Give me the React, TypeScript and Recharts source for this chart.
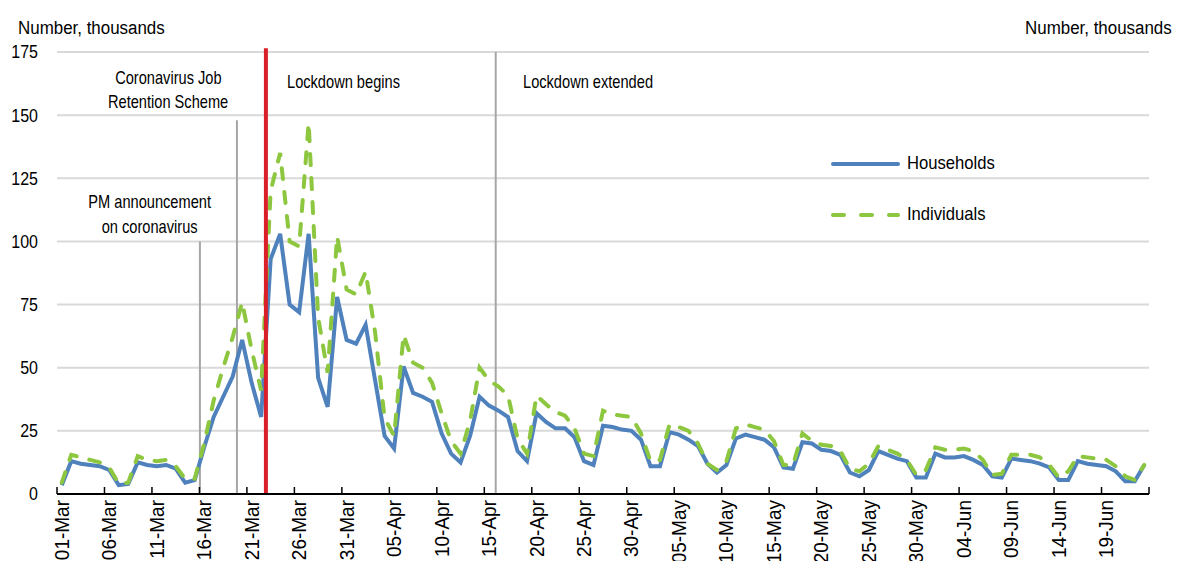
import { LineChart, Line, XAxis, YAxis, CartesianGrid, ReferenceLine } from "recharts";

const days = [
  "01-Mar", "02-Mar", "03-Mar", "04-Mar", "05-Mar", "06-Mar", "07-Mar", "08-Mar", "09-Mar", "10-Mar",
  "11-Mar", "12-Mar", "13-Mar", "14-Mar", "15-Mar", "16-Mar", "17-Mar", "18-Mar", "19-Mar", "20-Mar",
  "21-Mar", "22-Mar", "23-Mar", "24-Mar", "25-Mar", "26-Mar", "27-Mar", "28-Mar", "29-Mar", "30-Mar",
  "31-Mar", "01-Apr", "02-Apr", "03-Apr", "04-Apr", "05-Apr", "06-Apr", "07-Apr", "08-Apr", "09-Apr",
  "10-Apr", "11-Apr", "12-Apr", "13-Apr", "14-Apr", "15-Apr", "16-Apr", "17-Apr", "18-Apr", "19-Apr",
  "20-Apr", "21-Apr", "22-Apr", "23-Apr", "24-Apr", "25-Apr", "26-Apr", "27-Apr", "28-Apr", "29-Apr",
  "30-Apr", "01-May", "02-May", "03-May", "04-May", "05-May", "06-May", "07-May", "08-May", "09-May",
  "10-May", "11-May", "12-May", "13-May", "14-May", "15-May", "16-May", "17-May", "18-May", "19-May",
  "20-May", "21-May", "22-May", "23-May", "24-May", "25-May", "26-May", "27-May", "28-May", "29-May",
  "30-May", "31-May", "01-Jun", "02-Jun", "03-Jun", "04-Jun", "05-Jun", "06-Jun", "07-Jun", "08-Jun",
  "09-Jun", "10-Jun", "11-Jun", "12-Jun", "13-Jun", "14-Jun", "15-Jun", "16-Jun", "17-Jun", "18-Jun",
  "19-Jun", "20-Jun", "21-Jun", "22-Jun", "23-Jun",
];

// thousands
const households = [
  3.5, 13, 12, 11.5, 11, 9.5, 3.5, 4, 12.5, 11.5,
  11, 11.5, 10, 4.5, 5.5, 18.5, 30.5, 38.5, 46.5, 61,
  44, 30.5, 93, 103, 75, 72, 103, 46, 34.5, 78,
  61, 59.5, 67, 45, 23, 18, 50.5, 40, 38.5, 36.5,
  24, 16, 12.5, 23, 38.5, 35, 33, 30.5, 17, 13,
  32, 28.5, 26, 26, 22.5, 13, 11.5, 27, 26.5, 25.5,
  25, 21.5, 11, 11, 24.5, 23.5, 21.5, 19, 12, 8.5,
  11.5, 22, 23.5, 22.5, 21.5, 18.5, 10.5, 10, 20.5, 20,
  17.5, 17, 15.5, 8.5, 7, 9.5, 17, 15.5, 14, 13,
  6.5, 6.5, 16, 14.5, 14.5, 15, 13.5, 11.5, 7, 6.5,
  14, 13.5, 13, 12, 10.5, 5.5, 5.5, 13, 12, 11.5,
  11, 9, 5, 5, 11.5,
];

const individuals = [
  4.5, 15.5, 14.5, 13.5, 12.5, 10.5, 4, 4.5, 15, 13.5,
  13, 13.5, 11, 6, 6, 20, 37, 50, 62, 76,
  57, 41, 120, 135, 100, 98, 147, 70, 48, 102,
  81, 79, 88, 64, 30, 23, 63, 52, 50, 44,
  32, 21, 16, 29, 50, 45, 42.5, 39, 22, 16,
  39, 35.5, 32.5, 31, 26, 16, 15, 33, 31.5, 31,
  30.5, 24, 13, 13.5, 27.5, 26.5, 25, 20, 12, 9.5,
  13, 26, 27.5, 26.5, 25.5, 21, 11.5, 11.5, 24, 21,
  19.5, 19, 17, 10, 9, 12, 19, 17.5, 16, 13.5,
  7.5, 9.5, 18.5, 17.5, 17.5, 18, 17, 13.5, 7.5, 8,
  15.5, 15.5, 15.5, 14.5, 11.5, 6.5, 9, 15, 14.5, 14,
  13.5, 11, 7, 5.5, 11.5,
];

const xTicks = [0, 5, 10, 15, 20, 25, 30, 35, 40, 45, 50, 55, 60, 65, 70, 75, 80, 85, 90, 95, 100, 105, 110];
const yTicks = [0, 25, 50, 75, 100, 125, 150, 175];

const data = days.map((d, i) => ({ i, day: d, households: households[i], individuals: individuals[i] }));

const FONT = '"Liberation Sans", Arial, sans-serif';
const BLUE = "#4F81BD";
const GREEN = "#8DC63F";
const PLOT_LEFT = 57;
const PLOT_RIGHT = 1149;
const STEP = (PLOT_RIGHT - PLOT_LEFT) / days.length;

const DayTick = (props: any) => {
  const { x, y, payload } = props;
  const bx = x - STEP / 2;
  return (
    <g>
      <line x1={bx} x2={bx} y1={y} y2={y - 7} stroke="#000" strokeWidth={1.5} />
      {payload.value === 110 && (
        <line x1={x + STEP * 4.5} x2={x + STEP * 4.5} y1={y} y2={y - 7} stroke="#000" strokeWidth={1.5} />
      )}
      <text
        transform={`translate(${x},${y + 6}) rotate(-90) scale(0.95,1)`}
        textAnchor="end"
        dy="0.35em"
        fontSize={20}
        fontFamily={FONT}
        fill="#000"
      >
        {days[payload.value]}
      </text>
    </g>
  );
};

const ValueTick = (props: any) => {
  const { x, y, payload, textAnchor } = props;
  return (
    <text
      transform={`translate(${x},${y}) scale(0.89,1)`}
      textAnchor={textAnchor}
      dy="0.36em"
      fontSize={18}
      fontFamily={FONT}
      fill="#000"
    >
      {payload.value}
    </text>
  );
};

const Squeezed = ({ k, origin, children }: any) => (
  <span style={{ display: "inline-block", transform: `scaleX(${k})`, transformOrigin: origin }}>{children}</span>
);

const note = (lines: string[], style: any, origin: string) => (
  <div
    style={{
      position: "absolute",
      fontFamily: FONT,
      fontSize: 18.5,
      lineHeight: "24px",
      color: "#000",
      whiteSpace: "nowrap",
      ...style,
    }}
  >
    {lines.map((t) => (
      <div key={t}>
        <Squeezed k={0.79} origin={origin}>{t}</Squeezed>
      </div>
    ))}
  </div>
);

const legendItems = [
  { name: "Households", color: BLUE, dash: undefined as string | undefined },
  { name: "Individuals", color: GREEN, dash: "11 17" },
];

export default function App() {
  return (
    <div style={{ position: "absolute", left: 0, top: 0, width: 1198, height: 561, background: "#fff" }}>
      <LineChart width={1198} height={561} data={data} margin={{ top: 52, right: 0, bottom: 0, left: 0 }}>
        <CartesianGrid yAxisId="left" horizontal vertical={false} stroke="#D9D9D9" strokeWidth={2} />
        <XAxis
          dataKey="i"
          type="number"
          domain={[-0.5, days.length - 0.5]}
          ticks={xTicks}
          interval={0}
          height={67}
          tickLine={false}
          tickSize={0}
          tickMargin={0}
          axisLine={{ stroke: "#000", strokeWidth: 2 }}
          tick={<DayTick />}
        />
        <YAxis
          yAxisId="left"
          width={57}
          domain={[0, 175]}
          ticks={yTicks}
          axisLine={false}
          tickLine={false}
          tickSize={0}
          tickMargin={19}
          tick={<ValueTick />}
        />
        <YAxis
          yAxisId="right"
          orientation="right"
          width={49}
          domain={[0, 175]}
          ticks={yTicks}
          axisLine={false}
          tickLine={false}
          tickSize={0}
          tickMargin={10}
          tick={<ValueTick />}
        />
        <ReferenceLine
          yAxisId="left"
          segment={[{ x: 14.55, y: 0 }, { x: 14.55, y: 100 }]}
          stroke="#A6A6A6"
          strokeWidth={2}
        />
        <ReferenceLine
          yAxisId="left"
          segment={[{ x: 18.45, y: 0 }, { x: 18.45, y: 148 }]}
          stroke="#A6A6A6"
          strokeWidth={2}
        />
        <ReferenceLine
          yAxisId="left"
          segment={[{ x: 45.7, y: 0 }, { x: 45.7, y: 175 }]}
          stroke="#A6A6A6"
          strokeWidth={2}
        />
        <Line
          yAxisId="left"
          type="linear"
          dataKey="households"
          name="Households"
          stroke={BLUE}
          strokeWidth={4}
          dot={false}
          isAnimationActive={false}
        />
        <Line
          yAxisId="left"
          type="linear"
          dataKey="individuals"
          name="Individuals"
          stroke={GREEN}
          strokeWidth={4}
          strokeDasharray="11 13"
          strokeLinecap="round"
          dot={false}
          isAnimationActive={false}
        />
        <ReferenceLine
          yAxisId="left"
          segment={[{ x: 21.5, y: 0 }, { x: 21.5, y: 176.5 }]}
          ifOverflow="visible"
          stroke="#DA1F28"
          strokeWidth={4}
        />
      </LineChart>

      {/* legend */}
      <div style={{ position: "absolute", left: 831, top: 138, fontFamily: FONT, fontSize: 17.7, color: "#000" }}>
        {legendItems.map((it) => (
          <div key={it.name} style={{ display: "flex", alignItems: "center", height: 51 }}>
            <svg width={76} height={10} style={{ flex: "none" }}>
              <line
                x1={2}
                x2={67}
                y1={5}
                y2={5}
                stroke={it.color}
                strokeWidth={4}
                strokeDasharray={it.dash}
                strokeLinecap="round"
              />
            </svg>
            <Squeezed k={0.94} origin="left">{it.name}</Squeezed>
          </div>
        ))}
      </div>

      {/* axis titles */}
      <div style={{ position: "absolute", left: 18, top: 16, fontFamily: FONT, fontSize: 18, lineHeight: "24px", whiteSpace: "nowrap" }}>
        <Squeezed k={0.94} origin="left">Number, thousands</Squeezed>
      </div>
      <div style={{ position: "absolute", left: 1025, top: 16, fontFamily: FONT, fontSize: 18, lineHeight: "24px", whiteSpace: "nowrap" }}>
        <Squeezed k={0.94} origin="left">Number, thousands</Squeezed>
      </div>

      {/* event notes */}
      {note(["PM announcement", "on coronavirus"], { left: 50, width: 200, top: 189, textAlign: "center", lineHeight: "25px" }, "center")}
      {note(["Coronavirus Job", "Retention Scheme"], { left: 68, width: 200, top: 66, textAlign: "center" }, "center")}
      {note(["Lockdown begins"], { left: 287, top: 70 }, "left")}
      {note(["Lockdown extended"], { left: 523, top: 70 }, "left")}
    </div>
  );
}
